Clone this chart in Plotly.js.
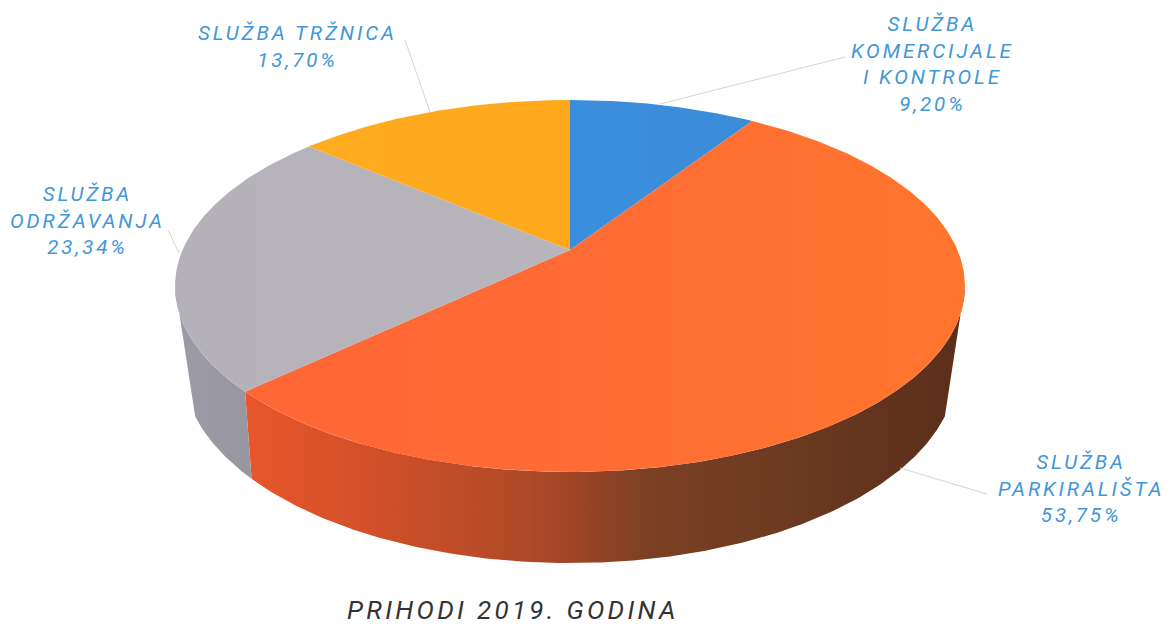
<!DOCTYPE html>
<html>
<head>
<meta charset="utf-8">
<script src="https://cdn.plot.ly/plotly-3.0.1.min.js"></script>
<style>
html,body{margin:0;padding:0;background:#fff}
#chart{width:1170px;height:626px}
.annotation-text{letter-spacing:2.9px}
.gtitle{letter-spacing:3.3px}
</style>
</head>
<body>
<div id="chart"></div>
<script>
// Data, clockwise from 12 o'clock
const categories = ['SLUŽBA<br>KOMERCIJALE<br>I KONTROLE', 'SLUŽBA<br>PARKIRALIŠTA', 'SLUŽBA<br>ODRŽAVANJA', 'SLUŽBA TRŽNICA'];
const shares = [9.20, 53.75, 23.34, 13.70];
const chartTitle = 'PRIHODI 2019. GODINA';

// Styles
const topFill = [
  [[0,'#3A8FDD'],[1,'#3C8CD8']],
  [[0,'#FF6636'],[0.5,'#FF6C34'],[1,'#FF762E']],
  [[0,'#B4B1B9'],[1,'#B8B5BC']],
  [[0,'#FFAC20'],[1,'#FFA81C']]
];
const sideFill = [null,
  [[0,'#E8562B'],[0.2,'#CF4F28'],[0.39,'#AE4A27'],[0.45,'#A04526'],[0.56,'#7B4024'],[0.77,'#6A3A20'],[1,'#5A2E1A']],
  [[0,'#9C9AA6'],[1,'#98969F']],
  null
];
const labelPos = [[932,64],[1081,488],[87,220],[297,46]];
const leaders = [[[660,845],[104,57]],[[900,987],[468,494]],[[168,179],[230,253]],[[405,430],[40,112]]];

// Projection of the tilted disc into axis units
const cx = 570, cy = 250, a = 387.5, b = 179, k = 0.1935;
const rad = d => d*Math.PI/180;
function rim(t){
  const u = Math.sin(t), v = Math.cos(t), w = 1 + k*v;
  return [cx + a*u/w, cy - b*v/w];
}
function base(t){
  const p = rim(t);
  return [cx + 0.98*(p[0]-cx), cy + 80 + 1.05*(p[1]-cy)];
}
function arc(fn, t0, t1){
  const n = Math.max(2, Math.ceil(Math.abs(t1-t0)/0.01)), out = [];
  for(let i=0;i<=n;i++) out.push(fn(t0+(t1-t0)*i/n));
  return out;
}

const total = shares.reduce((s,v)=>s+v,0);
let acc = 0;
const bounds = shares.map(s=>{const r=[acc/total*2*Math.PI,(acc+s)/total*2*Math.PI];acc+=s;return r;});

// Silhouette tangents of the wall (rim and base touch a straight edge at these angles)
const rimRight = rad(101), baseRight = rad(115), rimLeft = rad(259), baseLeft = rad(245);

const traces = [];
// Outer walls first
bounds.forEach((bd,i)=>{
  if(!sideFill[i]) return;
  const r0 = Math.max(bd[0], rimRight), r1 = Math.min(bd[1], rimLeft);
  const b0 = Math.max(bd[0], baseRight), b1 = Math.min(bd[1], baseLeft);
  const pts = arc(rim,r0,r1).concat(arc(base,b1,b0));
  pts.push(pts[0]);
  traces.push({type:'scatter',mode:'lines',x:pts.map(p=>p[0]),y:pts.map(p=>p[1]),
    fill:'toself',line:{width:0},fillgradient:{type:'horizontal',colorscale:sideFill[i]},hoverinfo:'skip',showlegend:false});
});
// Top face slices
bounds.forEach((bd,i)=>{
  const pts = [[cx,cy]].concat(arc(rim,bd[0],bd[1]));
  pts.push([cx,cy]);
  traces.push({type:'scatter',mode:'lines',x:pts.map(p=>p[0]),y:pts.map(p=>p[1]),
    fill:'toself',line:{width:0},fillgradient:{type:'horizontal',colorscale:topFill[i]},hoverinfo:'skip',showlegend:false});
});
// Leader lines
leaders.forEach(l=>{
  traces.push({type:'scatter',mode:'lines',x:l[0],y:l[1],line:{color:'#D4D4D4',width:1},hoverinfo:'skip',showlegend:false});
});

const annotations = categories.map((c,i)=>({
  x:labelPos[i][0],y:labelPos[i][1],xref:'x',yref:'y',xanchor:'center',yanchor:'middle',align:'center',showarrow:false,
  text:c+'<br>'+shares[i].toFixed(2).replace('.',',')+'%',
  font:{family:'Roboto, sans-serif',size:20.5,style:'italic',color:'#4297D9'}
}));

Plotly.newPlot('chart',traces,{
  width:1170,height:626,margin:{l:0,r:0,t:0,b:0},
  paper_bgcolor:'#ffffff',plot_bgcolor:'#ffffff',showlegend:false,
  xaxis:{range:[0,1170],visible:false,fixedrange:true},
  yaxis:{range:[626,0],visible:false,fixedrange:true},
  title:{text:chartTitle,x:513/1170,y:1-610/626,xanchor:'center',yanchor:'middle',
    font:{family:'Roboto, sans-serif',size:26,style:'italic',color:'#333333'}},
  annotations:annotations
},{displayModeBar:false,staticPlot:true});
</script>
</body>
</html>
